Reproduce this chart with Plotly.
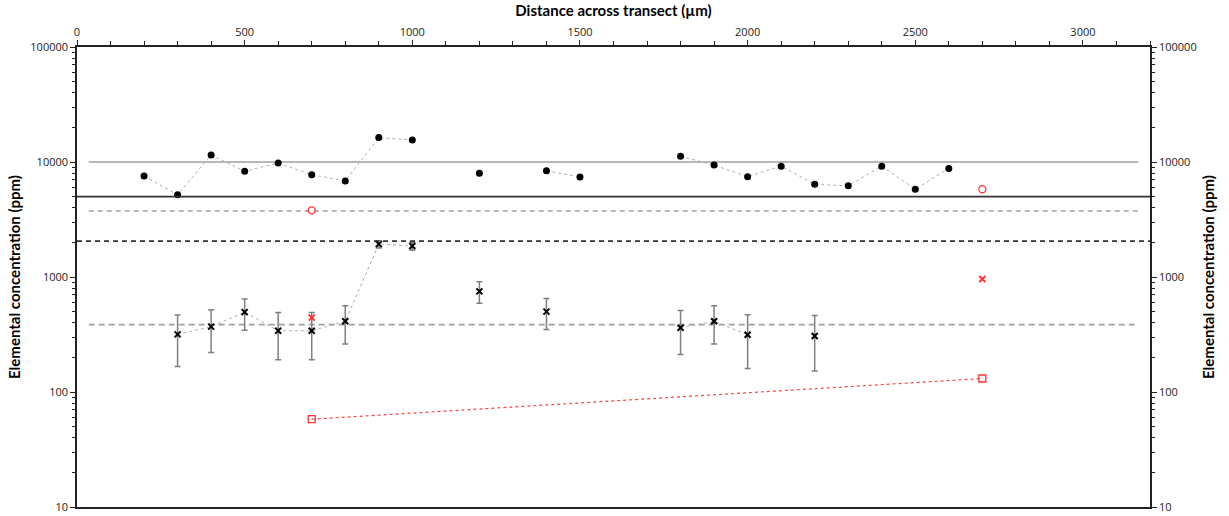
import plotly.graph_objects as go

# Distance positions (µm) and measured concentrations (ppm)
dist_a = [200, 300, 400, 500, 600, 700, 800, 900, 1000, 1100, 1200, 1300, 1400,
          1500, 1600, 1700, 1800, 1900, 2000, 2100, 2200, 2300, 2400, 2500, 2600]
conc_a = [7550, 5200, 11500, 8300, 9800, 7750, 6850, 16300, 15500, None, 8000, None, 8400,
          7400, None, None, 11200, 9400, 7450, 9200, 6400, 6200, 9200, 5800, 8800]

dist_b = [300, 400, 500, 600, 700, 800, 900, 1000, 1100, 1200, 1300, 1400,
          1500, 1600, 1700, 1800, 1900, 2000, 2100, 2200]
conc_b = [317, 370, 495, 341, 341, 412, 1930, 1860, None, 750, None, 500,
          None, None, None, 362, 412, 315, None, 307]
err_b = [150, 150, 150, 150, 150, 150, 140, 150, 0, 160, 0, 150,
         0, 0, 0, 150, 150, 155, 0, 155]

# Reference samples
ref_dist = [700, 2700]
ref_circle = [3800, 5800]
ref_cross = [443, 960]
ref_square = [58, 131]

# Threshold levels (ppm)
level_gray_solid = 10000
level_black_solid = 5000
level_gray_dash_hi = 3750
level_black_dash = 2050
level_gray_dash_lo = 385
span_partial = [35, 3165]

fig = go.Figure()

LINE_GRAY = "#b0b0b0"

# Threshold lines
fig.add_trace(go.Scatter(x=span_partial, y=[level_gray_solid] * 2, mode="lines",
                         line=dict(color="#a0a0a0", width=1.4), hoverinfo="skip"))
fig.add_shape(type="line", xref="paper", x0=0, x1=1, yref="y",
              y0=level_black_solid, y1=level_black_solid,
              line=dict(color="#333333", width=1.7))
fig.add_trace(go.Scatter(x=span_partial, y=[level_gray_dash_hi] * 2, mode="lines",
                         line=dict(color="#a0a0a0", width=1.4, dash="5px,4px"), hoverinfo="skip"))
fig.add_shape(type="line", xref="paper", x0=0, x1=1, yref="y",
              y0=level_black_dash, y1=level_black_dash,
              line=dict(color="#333333", width=1.6, dash="5px,4px"))
fig.add_trace(go.Scatter(x=span_partial, y=[level_gray_dash_lo] * 2, mode="lines",
                         line=dict(color="#a0a0a0", width=1.7, dash="6px,4px"), hoverinfo="skip"))

# Series A: filled circles
fig.add_trace(go.Scatter(x=dist_a, y=conc_a, mode="lines+markers", connectgaps=False,
                         line=dict(color=LINE_GRAY, width=1, dash="dot"),
                         marker=dict(symbol="circle", size=7, color="black")))

# Series B: crosses with error bars
fig.add_trace(go.Scatter(x=dist_b, y=conc_b, mode="lines+markers", connectgaps=False,
                         line=dict(color=LINE_GRAY, width=1, dash="dot"),
                         error_y=dict(type="data", array=err_b, color="#7f7f7f",
                                      thickness=1.5, width=3),
                         marker=dict(symbol="x-thin", size=6, color="black",
                                     line=dict(color="black", width=2))))

# Reference samples (red)
fig.add_trace(go.Scatter(x=ref_dist, y=ref_circle, mode="markers",
                         marker=dict(symbol="circle-open", size=7, color="#ff3333",
                                     line=dict(width=1.3))))
fig.add_trace(go.Scatter(x=ref_dist, y=ref_cross, mode="markers",
                         marker=dict(symbol="x-thin", size=6, color="#ff3333",
                                     line=dict(color="#ff3333", width=2))))
fig.add_trace(go.Scatter(x=ref_dist, y=ref_square, mode="lines+markers",
                         line=dict(color="#ff4444", width=1.2, dash="dot"),
                         marker=dict(symbol="square-open", size=7, color="#ff3333",
                                     line=dict(width=1.3))))

# Invisible trace to carry the right-hand axis
fig.add_trace(go.Scatter(x=[None], y=[None], yaxis="y2", showlegend=False, hoverinfo="skip"))

tick_font = dict(family="Open Sans", size=11, color="#222")
title_font = dict(family="Lato", size=15, color="black")

fig.update_layout(
    width=1229, height=516,
    margin=dict(l=77, r=79, t=47, b=9, autoexpand=False),
    paper_bgcolor="white", plot_bgcolor="white",
    showlegend=False,
    xaxis=dict(side="top", range=[0, 3200], tickvals=[0, 500, 1000, 1500, 2000, 2500, 3000],
               showline=True, linecolor="#222", linewidth=1.5, mirror=True,
               ticks="outside", ticklen=5, tickwidth=1, tickcolor="#222",
               minor=dict(dtick=100, ticks="outside", ticklen=4, tickcolor="#222"),
               showgrid=False, zeroline=False, tickfont=tick_font, automargin=False,
               title=dict(text="<b>Distance across transect (µm)</b>", font=title_font, standoff=4)),
    yaxis=dict(type="log", range=[1, 5], tickvals=[10, 100, 1000, 10000, 100000],
               ticktext=["10", "100", "1000", "10000", "100000"],
               showline=True, linecolor="#222", linewidth=1.5,
               ticks="outside", ticklen=5, tickcolor="#222",
               minor=dict(ticks="outside", ticklen=3, tickcolor="#222", dtick="D1"),
               showgrid=False, zeroline=False, tickfont=tick_font, automargin=False,
               title=dict(text="<b>Elemental concentration (ppm)</b>", font=title_font, standoff=6)),
    yaxis2=dict(type="log", range=[1, 5], overlaying="y", side="right",
                tickvals=[10, 100, 1000, 10000, 100000],
                ticktext=["10", "100", "1000", "10000", "100000"],
                showline=True, linecolor="#222", linewidth=1.5,
                ticks="outside", ticklen=5, tickcolor="#222",
                minor=dict(ticks="outside", ticklen=3, tickcolor="#222", dtick="D1"),
                showgrid=False, zeroline=False, tickfont=tick_font, automargin=False,
                title=dict(text="<b>Elemental concentration (ppm)</b>", font=title_font, standoff=8)),
)

fig.write_html("out.html")
